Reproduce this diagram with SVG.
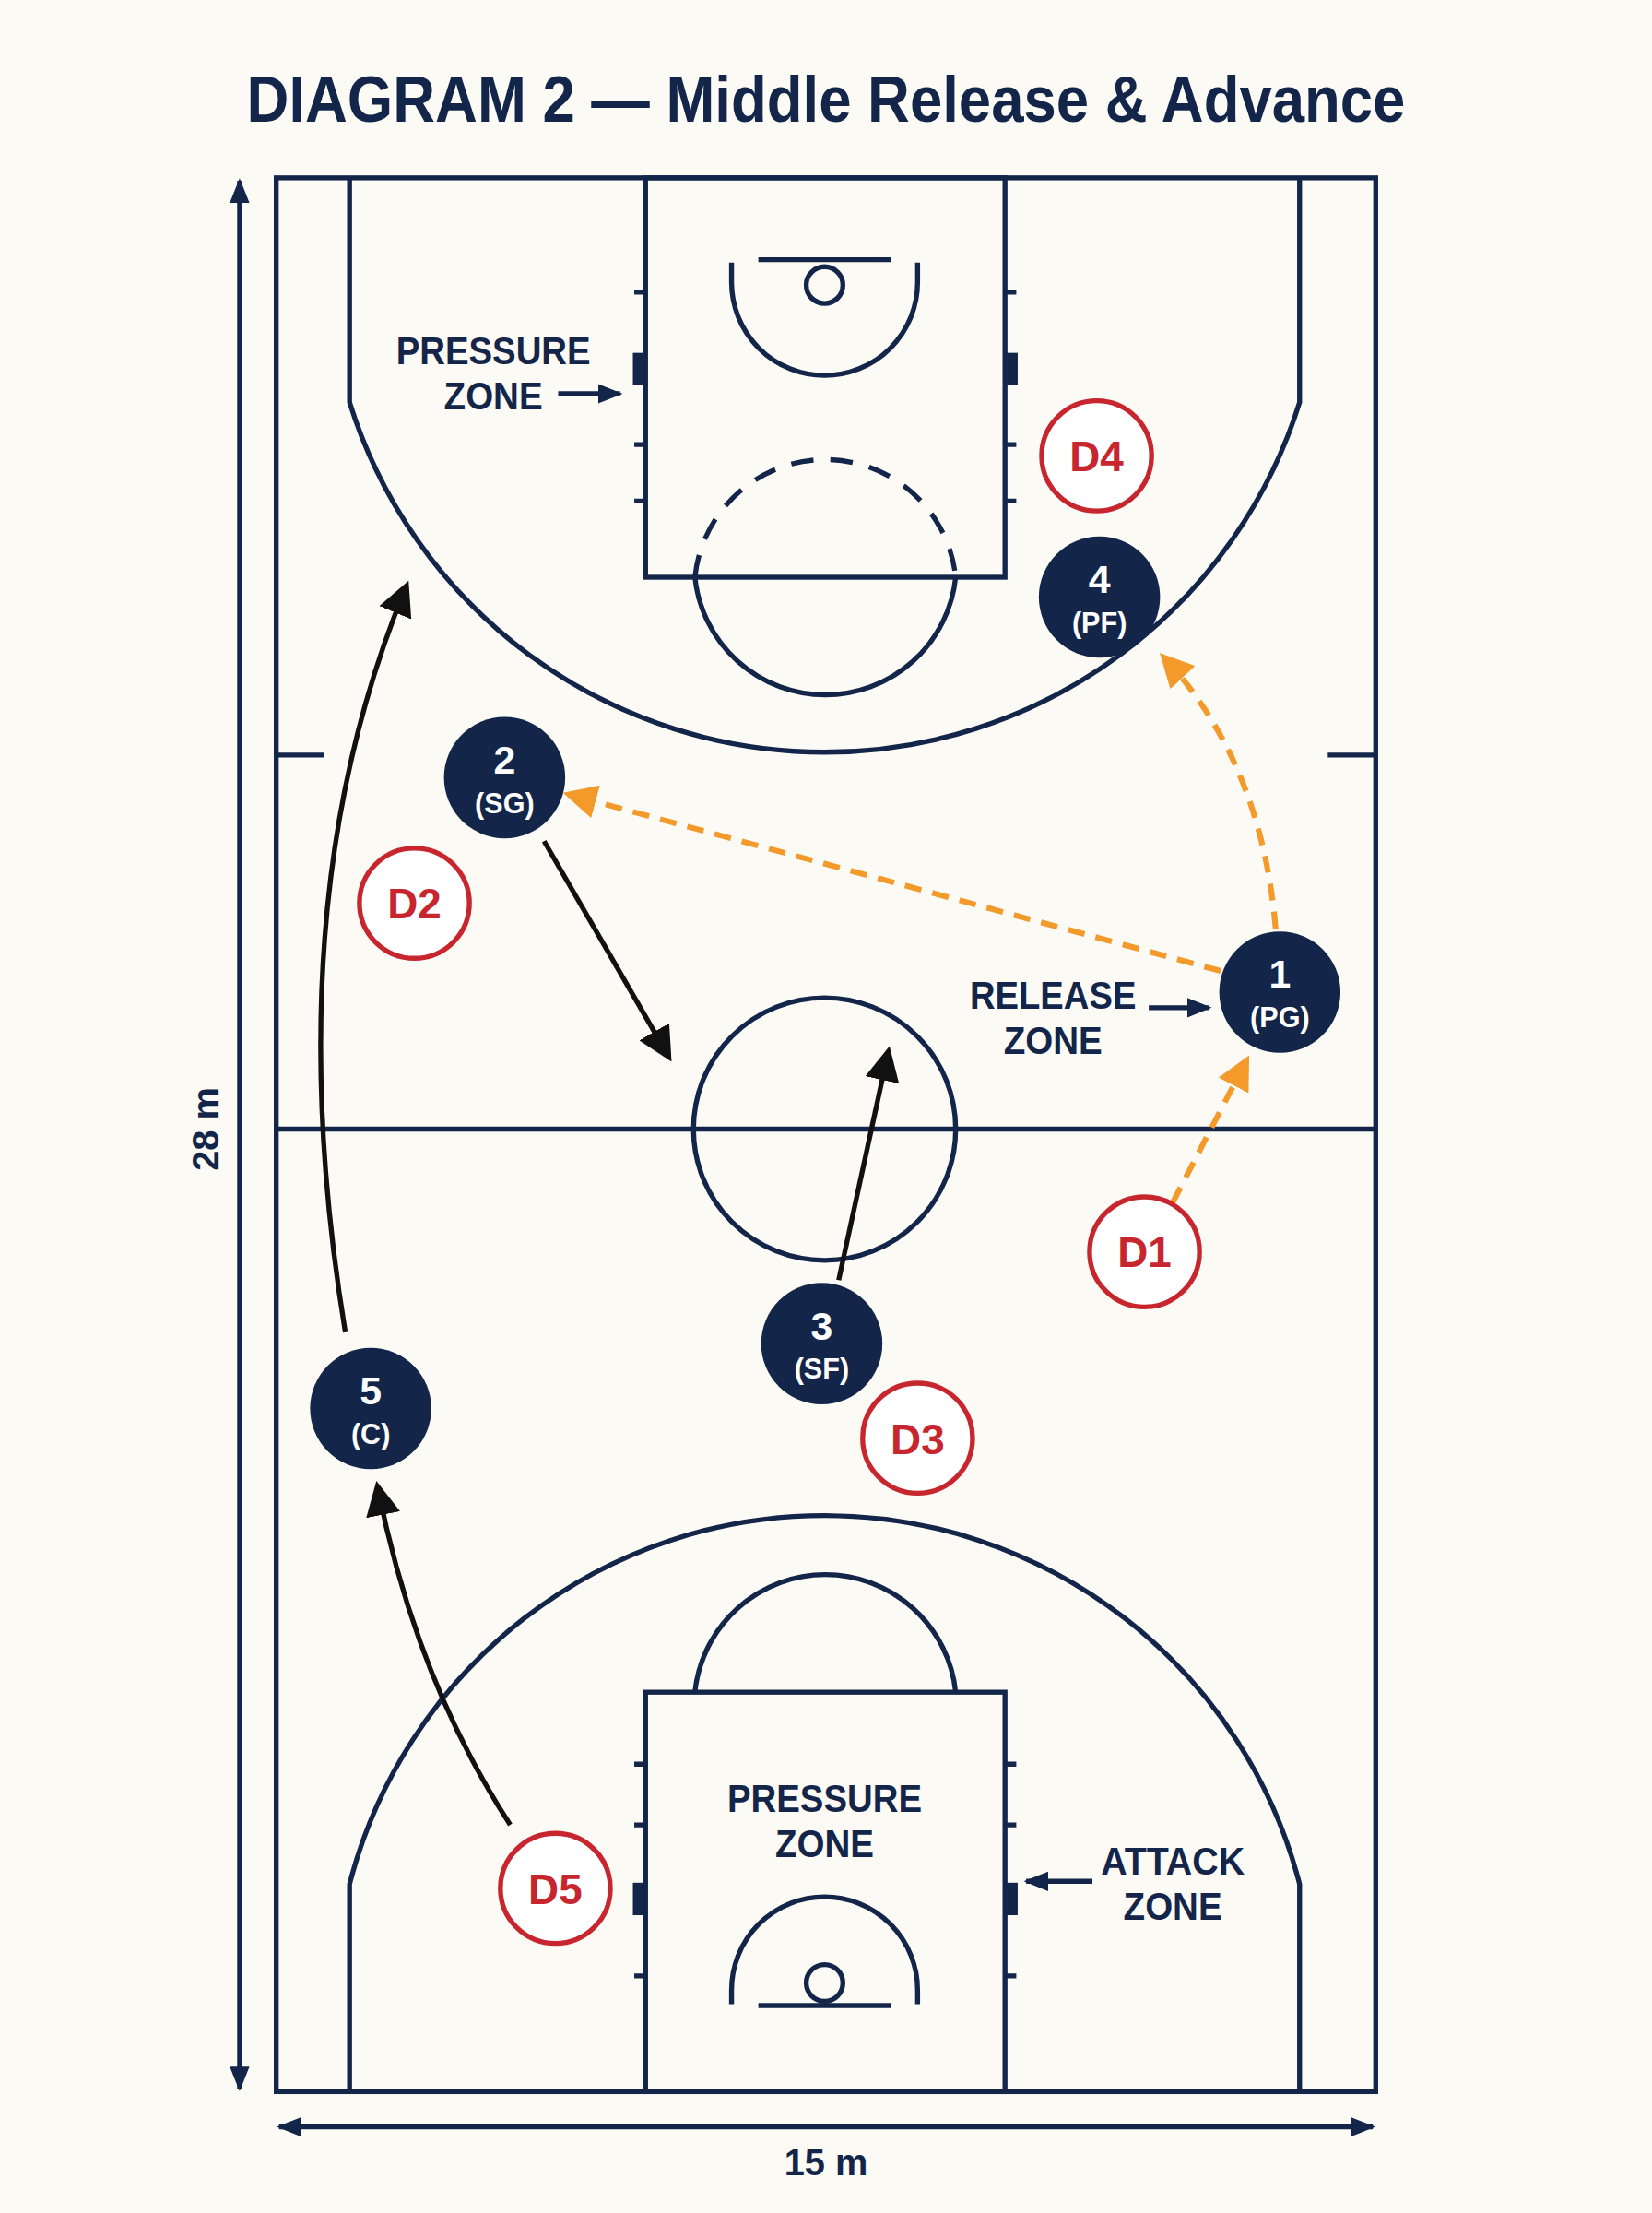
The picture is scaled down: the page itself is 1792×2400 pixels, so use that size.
<svg xmlns="http://www.w3.org/2000/svg" width="1792" height="2400" viewBox="0 0 1792 2400">
<defs>
<style>
.l{fill:none;stroke:#14254a;stroke-width:3.5}
.t{font-family:"Liberation Sans",Arial,sans-serif;font-weight:bold;fill:#14254a;text-anchor:middle}
.p{fill:#14254a}
.pt{font-family:"Liberation Sans",Arial,sans-serif;font-weight:bold;fill:#fff;text-anchor:middle}
.d{fill:#fff;stroke:#c8262e;stroke-width:3.5}
.dt{font-family:"Liberation Sans",Arial,sans-serif;font-weight:bold;fill:#c8262e;text-anchor:middle;font-size:30px}
.o{fill:none;stroke:#f39a2b;stroke-width:4;stroke-dasharray:12 8}
.b{fill:none;stroke:#111;stroke-width:3.5}
</style>
<marker id="ao" viewBox="0 0 10 10" refX="8" refY="5" markerWidth="6" markerHeight="6" orient="auto" markerUnits="strokeWidth"><path d="M0,0L10,5L0,10z" fill="#f39a2b"/></marker>
<marker id="ab" viewBox="0 0 10 10" refX="8" refY="5" markerWidth="7" markerHeight="7" orient="auto" markerUnits="strokeWidth"><path d="M0,0L10,5L0,10z" fill="#111"/></marker>
<marker id="an" viewBox="0 0 10 10" refX="9" refY="5" markerWidth="5" markerHeight="5" orient="auto-start-reverse" markerUnits="strokeWidth"><path d="M0,1L10,5L0,9z" fill="#14254a"/></marker>
</defs>
<rect width="1792" height="2400" fill="#fbfaf5"/>
<g transform="scale(1.529,1.5306)">
<text class="t" x="586" y="86" font-size="46" textLength="822" lengthAdjust="spacingAndGlyphs">DIAGRAM 2 — Middle Release &amp; Advance</text>
<g id="court">
<rect class="l" x="196" y="126" width="780" height="1356"/>
<path class="l" d="M248,126V285A353,353 0 0 0 922,285V126"/>
<path class="l" d="M248,1482V1335A348,348 0 0 1 922,1335V1482"/>
<rect class="l" x="458" y="126" width="255" height="283"/>
<rect class="l" x="458" y="1199" width="255" height="283"/>
<path class="l" d="M493,409A93,93 0 0 0 678,409" />
<path class="l" d="M493,409A93,93 0 0 1 678,409" stroke-dasharray="16 12"/>
<path class="l" d="M519,186V200A66,66 0 0 0 651,200V186"/>
<line class="l" x1="538" y1="184" x2="632" y2="184"/>
<circle class="l" cx="585" cy="202" r="13"/>
<path class="l" d="M493,1199A93,93 0 0 1 678,1199"/>
<path class="l" d="M519,1420V1410A66,66 0 0 1 651,1410V1420"/>
<line class="l" x1="538" y1="1421" x2="632" y2="1421"/>
<circle class="l" cx="585" cy="1405" r="13"/>
<line class="l" x1="196" y1="800" x2="976" y2="800"/>
<circle class="l" cx="585" cy="800" r="93"/>
<path class="l" d="M196,535H230M942,535H976"/>
<path class="l" d="M450,207H458M450,315H458M450,355H458M713,207H721M713,315H721M713,355H721"/>
<path class="l" d="M450,1250H458M450,1293H458M450,1400H458M713,1250H721M713,1293H721M713,1400H721"/>
<rect class="p" x="449" y="250" width="9" height="23"/><rect class="p" x="713" y="250" width="9" height="23"/>
<rect class="p" x="449" y="1334" width="9" height="23"/><rect class="p" x="713" y="1334" width="9" height="23"/>
</g>
<g id="dimensions">
<line class="l" x1="170" y1="128" x2="170" y2="1480" stroke-width="3" marker-start="url(#an)" marker-end="url(#an)"/>
<text class="t" font-size="26" transform="translate(155,800) rotate(-90)">28 m</text>
<line class="l" x1="198" y1="1507" x2="974" y2="1507" stroke-width="3" marker-start="url(#an)" marker-end="url(#an)"/>
<text class="t" font-size="26" x="586" y="1541">15 m</text>
</g>
<g id="labels">
<text class="t" font-size="28" x="350" y="258" textLength="138" lengthAdjust="spacingAndGlyphs">PRESSURE</text><text class="t" font-size="28" x="350" y="290" textLength="70" lengthAdjust="spacingAndGlyphs">ZONE</text>
<line class="l" x1="396" y1="279" x2="440" y2="279" stroke-width="2.5" marker-end="url(#an)"/>
<text class="t" font-size="28" x="747" y="715" textLength="118" lengthAdjust="spacingAndGlyphs">RELEASE</text><text class="t" font-size="28" x="747" y="747" textLength="70" lengthAdjust="spacingAndGlyphs">ZONE</text>
<line class="l" x1="815" y1="714" x2="858" y2="714" stroke-width="2.5" marker-end="url(#an)"/>
<text class="t" font-size="28" x="585" y="1284" textLength="138" lengthAdjust="spacingAndGlyphs">PRESSURE</text><text class="t" font-size="28" x="585" y="1316" textLength="70" lengthAdjust="spacingAndGlyphs">ZONE</text>
<text class="t" font-size="28" x="832" y="1328" textLength="102" lengthAdjust="spacingAndGlyphs">ATTACK</text><text class="t" font-size="28" x="832" y="1360" textLength="70" lengthAdjust="spacingAndGlyphs">ZONE</text>
<line class="l" x1="775" y1="1333" x2="728" y2="1333" stroke-width="2.5" marker-end="url(#an)"/>
</g>
<g id="connectors">
<path class="o" d="M866,688L404,563" marker-end="url(#ao)"/>
<path class="o" d="M905,658Q895,540 826,466" marker-end="url(#ao)"/>
<path class="o" d="M832,852L884,752" marker-end="url(#ao)"/>
<path class="b" d="M386,596L474,748" marker-end="url(#ab)"/>
<path class="b" d="M595,907L630,746" marker-end="url(#ab)"/>
<path class="b" d="M245,944Q195,640 288,416" marker-end="url(#ab)"/>
<path class="b" d="M362,1293Q295,1190 268,1054" marker-end="url(#ab)"/>
</g>
<g id="p4"><circle class="p" cx="780" cy="423" r="43"/><text class="pt" x="780" y="420" font-size="28">4</text><text class="pt" x="780" y="448" font-size="20">(PF)</text></g>
<g id="p2"><circle class="p" cx="358" cy="551" r="43"/><text class="pt" x="358" y="548" font-size="28">2</text><text class="pt" x="358" y="576" font-size="20">(SG)</text></g>
<g id="p1"><circle class="p" cx="908" cy="703" r="43"/><text class="pt" x="908" y="700" font-size="28">1</text><text class="pt" x="908" y="728" font-size="20">(PG)</text></g>
<g id="p3"><circle class="p" cx="583" cy="952" r="43"/><text class="pt" x="583" y="949" font-size="28">3</text><text class="pt" x="583" y="977" font-size="20">(SF)</text></g>
<g id="p5"><circle class="p" cx="263" cy="998" r="43"/><text class="pt" x="263" y="995" font-size="28">5</text><text class="pt" x="263" y="1023" font-size="20">(C)</text></g>
<g id="d4"><circle class="d" cx="778" cy="323" r="39"/><text class="dt" x="778" y="334">D4</text></g>
<g id="d2"><circle class="d" cx="294" cy="640" r="39"/><text class="dt" x="294" y="651">D2</text></g>
<g id="d1"><circle class="d" cx="812" cy="887" r="39"/><text class="dt" x="812" y="898">D1</text></g>
<g id="d3"><circle class="d" cx="651" cy="1019" r="39"/><text class="dt" x="651" y="1030">D3</text></g>
<g id="d5"><circle class="d" cx="394" cy="1338" r="39"/><text class="dt" x="394" y="1349">D5</text></g>
</g>
</svg>
